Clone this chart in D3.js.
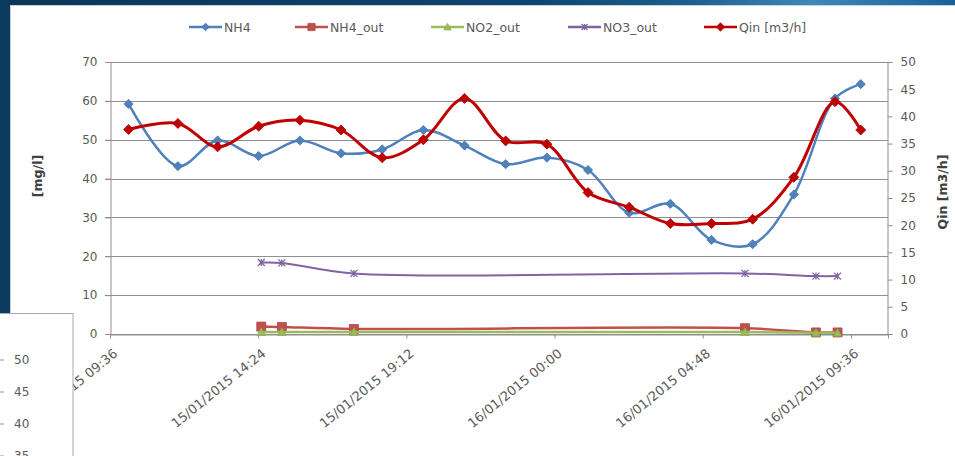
<!DOCTYPE html>
<html>
<head>
<meta charset="utf-8">
<script src="https://cdn.jsdelivr.net/npm/d3@7"></script>
<style>
  html, body { margin: 0; padding: 0; background: #fff; overflow: hidden; }
  svg { display: block; font-family: "DejaVu Sans", sans-serif; }
</style>
</head>
<body>
<svg id="chart" width="955" height="456"></svg>
<script>
// ---- Influent samples (left axis mg/l, right axis m3/h) ----
const sampleTimes = [
  "15/01/2015 10:12", "15/01/2015 11:48", "15/01/2015 13:05", "15/01/2015 14:25",
  "15/01/2015 15:45", "15/01/2015 17:05", "15/01/2015 18:25", "15/01/2015 19:45",
  "15/01/2015 21:05", "15/01/2015 22:25", "15/01/2015 23:45", "16/01/2015 01:05",
  "16/01/2015 02:25", "16/01/2015 03:45", "16/01/2015 05:05", "16/01/2015 06:25",
  "16/01/2015 07:45", "16/01/2015 09:05", "16/01/2015 09:55"
];
const nh4 = [59.2, 43.2, 49.8, 45.8, 49.8, 46.5, 47.5, 52.5, 48.5, 43.7,
             45.4, 42.2, 31.2, 33.5, 24.2, 23.1, 35.9, 60.6, 64.3];
const qin = [37.6, 38.7, 34.4, 38.2, 39.3, 37.5, 32.4, 35.7, 43.3, 35.5,
             34.9, 26.0, 23.3, 20.3, 20.3, 21.1, 28.8, 42.7, 37.5];

// ---- Effluent samples ----
const effluentTimes = [
  "15/01/2015 14:30", "15/01/2015 15:10", "15/01/2015 17:30",
  "16/01/2015 06:10", "16/01/2015 08:28", "16/01/2015 09:10"
];
const nh4Out = [1.9, 1.8, 1.3, 1.5, 0.4, 0.4];
const no2Out = [0.5, 0.5, 0.5, 0.5, 0.3, 0.3];
const no3Out = [18.4, 18.3, 15.6, 15.6, 14.9, 14.9];

// ---- Axes ----
const xDomain = ["15/01/2015 09:36", "16/01/2015 10:48"];
const xTickLabels = [
  "15/01/2015 09:36", "15/01/2015 14:24", "15/01/2015 19:12",
  "16/01/2015 00:00", "16/01/2015 04:48", "16/01/2015 09:36"
];
const leftTicks = [0, 10, 20, 30, 40, 50, 60, 70];
const rightTicks = [0, 5, 10, 15, 20, 25, 30, 35, 40, 45, 50];
const leftTitle = "[mg/l]";
const rightTitle = "Qin [m3/h]";
const seriesNames = ["NH4", "NH4_out", "NO2_out", "NO3_out", "Qin [m3/h]"];
// right-axis labels of the neighbouring chart panel
const neighbourTicks = [50, 45, 40, 35];

const parse = d3.timeParse("%d/%m/%Y %H:%M");
const svg = d3.select("#chart");

// ---- Slide background ----
const defs = svg.append("defs");
const grad = defs.append("linearGradient").attr("id", "band")
  .attr("x1", "0").attr("x2", "1").attr("y1", "0").attr("y2", "0");
[[0, "#0a355a"], [0.55, "#0d4470"], [0.72, "#1b5e8e"], [0.85, "#3d88bd"], [1, "#15629b"]]
  .forEach(([o, c]) => grad.append("stop").attr("offset", o).attr("stop-color", c));

svg.append("rect").attr("width", 955).attr("height", 456).attr("fill", "#ffffff");
svg.append("rect").attr("x", 0).attr("y", 0).attr("width", 955).attr("height", 5).attr("fill", "url(#band)");
svg.append("rect").attr("x", 0).attr("y", 0).attr("width", 10).attr("height", 456).attr("fill", "#0a3a5f");
svg.append("rect").attr("x", 10.5).attr("y", 5.5).attr("width", 950).attr("height", 460)
  .attr("fill", "#ffffff").attr("stroke", "#d0d0d0");

// ---- Scales ----
const x = d3.scaleTime().domain(xDomain.map(parse)).range([110, 888]);
const yL = d3.scaleLinear().domain([0, 70]).range([334, 62]);
const yR = d3.scaleLinear().domain([0, 50]).range([334, 62]);

const textColor = "#595959";
const gridColor = "#8f8f8f";

// gridlines (left axis major units)
svg.append("g").selectAll("line").data(leftTicks).join("line")
  .attr("x1", 105).attr("x2", 888)
  .attr("y1", d => Math.round(yL(d)) + 0.5).attr("y2", d => Math.round(yL(d)) + 0.5)
  .attr("stroke", gridColor).attr("stroke-width", 1);

// left axis
const gL = svg.append("g").attr("transform", "translate(110.5,0)")
  .call(d3.axisLeft(yL).tickValues(leftTicks).tickSize(5).tickPadding(8));
// right axis
const gR = svg.append("g").attr("transform", "translate(887.5,0)")
  .call(d3.axisRight(yR).tickValues(rightTicks).tickSize(5).tickPadding(8));
// bottom axis
const xTickDates = xTickLabels.map(parse);
const gB = svg.append("g").attr("transform", "translate(0,334.5)")
  .call(d3.axisBottom(x).tickValues(xTickDates).tickSize(4)
    .tickFormat(d3.timeFormat("%d/%m/%Y %H:%M")));

[gL, gR, gB].forEach(g => {
  g.select(".domain").attr("stroke", gridColor);
  g.selectAll(".tick line").attr("stroke", gridColor);
  g.selectAll("text").attr("fill", textColor).attr("font-size", 12)
    .attr("font-family", "DejaVu Sans, sans-serif");
});
gB.selectAll("text")
  .attr("text-anchor", "end")
  .attr("y", 0).attr("dy", "0.35em")
  .attr("transform", "translate(5,17) rotate(-39)")
  .attr("font-size", 13);

// axis titles
svg.append("text").attr("transform", `translate(42,${(yL(0) + yL(70)) / 2 - 22}) rotate(-90)`)
  .attr("text-anchor", "middle").attr("font-weight", "bold").attr("font-size", 12.5)
  .attr("fill", "#404040").text(leftTitle);
svg.append("text").attr("transform", `translate(947,${(yR(0) + yR(50)) / 2 - 6}) rotate(-90)`)
  .attr("text-anchor", "middle").attr("font-weight", "bold").attr("font-size", 12.5)
  .attr("fill", "#404040").text(rightTitle);

// ---- Series ----
const curve = d3.curveCatmullRom.alpha(0.5);
const colors = { nh4: "#4f81bd", nh4Out: "#c0504d", no2Out: "#9bbb59", no3Out: "#8064a2", qin: "#c00000" };

function marker(sel, kind, color, r) {
  if (kind === "x") {
    sel.append("path")
      .attr("d", `M${-r},${-r}L${r},${r}M${-r},${r}L${r},${-r}M0,${-r}L0,${r}`)
      .attr("stroke", color).attr("stroke-width", 1.3).attr("fill", "none");
    return;
  }
  let d;
  if (kind === "diamond") d = `M0,${-r}L${r},0L0,${r}L${-r},0Z`;
  else if (kind === "square") d = `M${-r},${-r}H${r}V${r}H${-r}Z`;
  else d = `M0,${-r}L${r},${r * 0.8}L${-r},${r * 0.8}Z`;
  sel.append("path").attr("d", d)
    .attr("fill", color).attr("stroke", d3.color(color).darker(0.3)).attr("stroke-width", 0.8);
}

function drawSeries(times, values, yScale, color, width, kind, r) {
  const pts = times.map((t, i) => [x(parse(t)), yScale(values[i])]);
  svg.append("path")
    .attr("d", d3.line().curve(curve)(pts))
    .attr("fill", "none").attr("stroke", color).attr("stroke-width", width)
    .attr("stroke-linejoin", "round").attr("stroke-linecap", "round");
  pts.forEach(p => {
    const g = svg.append("g").attr("transform", `translate(${p[0]},${p[1]})`);
    marker(g, kind, color, r);
  });
}

drawSeries(sampleTimes, nh4, yL, colors.nh4, 2.5, "diamond", 4.6);
drawSeries(effluentTimes, nh4Out, yL, colors.nh4Out, 2.5, "square", 4.5);
drawSeries(effluentTimes, no2Out, yL, colors.no2Out, 2.5, "triangle", 4.2);
drawSeries(effluentTimes, no3Out, yL, colors.no3Out, 2, "x", 3.5);
drawSeries(sampleTimes, qin, yR, colors.qin, 3, "diamond", 5);

// ---- Legend ----
const legendX = [189, 295, 431, 568, 704];
const legendKinds = [
  [colors.nh4, "diamond", 3.8], [colors.nh4Out, "square", 3.6], [colors.no2Out, "triangle", 3.6],
  [colors.no3Out, "x", 3], [colors.qin, "diamond", 4.2]
];
const legend = svg.append("g");
seriesNames.forEach((name, i) => {
  const [color, kind, r] = legendKinds[i];
  const g = legend.append("g").attr("transform", `translate(${legendX[i]},27)`);
  g.append("line").attr("x1", 0).attr("x2", 33).attr("stroke", color).attr("stroke-width", 2.5);
  marker(g.append("g").attr("transform", "translate(16.5,0)"), kind, color, r);
  g.append("text").attr("x", 35).attr("y", 4.5).attr("font-size", 12.5)
    .attr("fill", textColor).text(name);
});

// ---- Neighbouring chart panel overlapping the corner ----
const panel = svg.append("g");
panel.append("rect").attr("x", -1).attr("y", 313.5).attr("width", 74).attr("height", 150)
  .attr("fill", "#ffffff").attr("stroke", "#a9a9a9");
const yN = d3.scaleLinear().domain([35, 50]).range([456, 360]);
panel.selectAll("line.nt").data(neighbourTicks).join("line")
  .attr("x1", 0).attr("x2", 4).attr("y1", d => yN(d)).attr("y2", d => yN(d))
  .attr("stroke", gridColor);
panel.selectAll("text").data(neighbourTicks).join("text")
  .attr("x", 14).attr("y", d => yN(d)).attr("dy", "0.35em")
  .attr("font-size", 12).attr("fill", textColor).text(d => d);
</script>
</body>
</html>
